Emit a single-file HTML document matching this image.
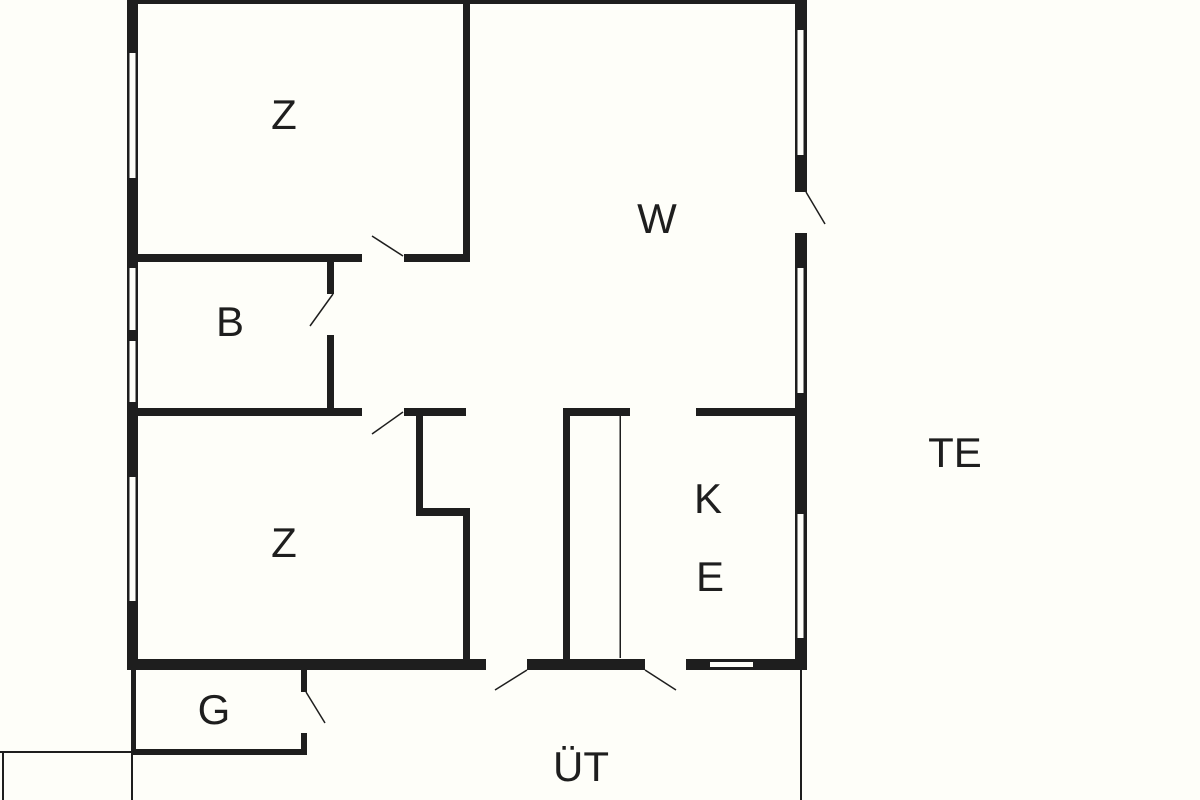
<!DOCTYPE html>
<html><head><meta charset="utf-8"><style>
html,body{margin:0;padding:0;background:#fefef9;}
svg{display:block}
text{font-family:"Liberation Sans",sans-serif;font-size:42px;fill:#1e1e1e;text-anchor:middle;}
</style></head><body>
<svg width="1200" height="800" viewBox="0 0 1200 800">
<rect width="1200" height="800" fill="#fefef9"/>
<g fill="#1e1e1e">
<!-- outer -->
<rect x="127" y="0" width="680" height="4"/>
<rect x="127" y="0" width="11" height="670"/>
<rect x="795" y="0" width="12" height="192"/>
<rect x="795" y="233" width="12" height="437"/>
<!-- bottom wall -->
<rect x="127" y="659" width="359" height="11"/>
<rect x="527" y="659" width="118" height="11"/>
<rect x="686" y="659" width="121" height="11"/>
<!-- Z1 -->
<rect x="463" y="0" width="7" height="262"/>
<rect x="138" y="254" width="224" height="8"/>
<rect x="404" y="254" width="66" height="8"/>
<!-- B -->
<rect x="327" y="262" width="7" height="32"/>
<rect x="327" y="335" width="7" height="77"/>
<rect x="138" y="408" width="224" height="8"/>
<rect x="404" y="408" width="62" height="8"/>
<!-- Z2 -->
<rect x="416" y="412" width="7" height="104"/>
<rect x="416" y="508" width="54" height="8"/>
<rect x="463" y="508" width="7" height="160"/>
<!-- stair -->
<rect x="563" y="408" width="7" height="260"/>
<rect x="563" y="408" width="67" height="8"/>
<rect x="619.5" y="416" width="1.5" height="242"/>
<!-- kitchen -->
<rect x="696" y="408" width="104" height="8"/>
<!-- G -->
<rect x="131" y="670" width="5" height="85"/>
<rect x="131" y="749" width="176" height="6"/>
<rect x="301" y="670" width="6" height="22"/>
<rect x="301" y="733" width="6" height="22"/>
<!-- thin lines -->
<rect x="800" y="670" width="2" height="130"/>
<rect x="131" y="755" width="2" height="45"/>
<rect x="0" y="751" width="133" height="2"/>
<rect x="2" y="751" width="2" height="49"/>
</g>
<!-- windows -->
<g fill="#fefef9">
<rect x="129.5" y="53" width="6" height="125"/>
<rect x="129.5" y="268" width="6" height="62"/>
<rect x="129.5" y="341" width="6" height="61"/>
<rect x="129.5" y="477" width="6" height="124"/>
<rect x="797.5" y="30" width="6" height="125"/>
<rect x="797.5" y="268" width="6" height="125"/>
<rect x="797.5" y="514" width="6" height="124"/>
<rect x="710" y="662" width="43" height="5"/>
</g>
<!-- door swings -->
<g stroke="#1e1e1e" stroke-width="1.5" fill="none">
<line x1="806" y1="192" x2="825" y2="224"/>
<line x1="372" y1="236" x2="403" y2="256"/>
<line x1="333" y1="294" x2="310" y2="326"/>
<line x1="403" y1="412" x2="372" y2="434"/>
<line x1="527" y1="670" x2="495" y2="690"/>
<line x1="645" y1="670" x2="676" y2="690"/>
<line x1="306" y1="692" x2="325" y2="723"/>
</g>
<text x="284" y="129">Z</text>
<text x="657" y="233">W</text>
<text x="230" y="336">B</text>
<text x="284" y="557">Z</text>
<text x="708" y="513">K</text>
<text x="710" y="591">E</text>
<text x="955" y="467">TE</text>
<text x="214" y="724">G</text>
<text x="581" y="781">ÜT</text>
</svg>
</body></html>
